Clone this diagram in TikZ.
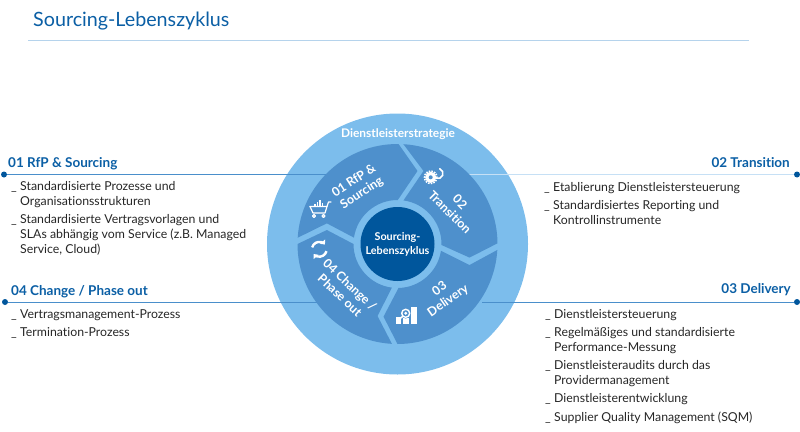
\documentclass[tikz,border=0pt]{standalone}
\usepackage{fontspec}
\setmainfont{Lato}[Ligatures=NoCommon]
\usepackage{xcolor}
\usetikzlibrary{arrows.meta}
\definecolor{ringblue}{HTML}{7CBDEC}
\definecolor{segblue}{HTML}{4E90CC}
\definecolor{darkblue}{HTML}{00569C}
\definecolor{headblue}{HTML}{0B5FA5}
\definecolor{lineblue}{HTML}{4A8FCB}
\definecolor{paleblue}{HTML}{C6E0F5}
\definecolor{rulecol}{HTML}{B5D3EC}
\definecolor{bodytext}{HTML}{262626}
\tikzset{
  heading/.style={inner sep=0pt, text=headblue, font=\fontsize{13.5}{15}\selectfont\bfseries},
  itemtext/.style={anchor=north west, inner sep=0pt, align=left, text=bodytext, font=\fontsize{12.3}{15}\selectfont},
  enddot/.style={circle, fill=darkblue, inner sep=0pt, minimum size=6pt},
  leader/.style={draw=lineblue, line width=0.9pt},
  paleleader/.style={draw=paleblue, line width=1.8pt},
  seg/.style={fill=segblue},
  ringtext/.style={inner sep=0pt, align=center, text=white, font=\fontsize{12.4}{14.5}\selectfont\bfseries},
  icon/.style={draw=white, line width=1.2pt, line cap=round, line join=round}
}
% name, x, baseline, text
\newcommand{\ItemRow}[4]{%
  \node[itemtext] (#1d) at ({#2-9},{#3-10.5}) {\strut\_};
  \node[itemtext] (#1) at ({#2},{#3-10.5}) {\strut #4};
}
% outer from,to; tip angle,radius; inner from,to; notch angle,radius
\newcommand{\RingSeg}[8]{%
  \fill[seg] (#1:100) arc[start angle=#1, end angle=#2, radius=100] -- (#3:#4)
    -- (#5:44) arc[start angle=#5, end angle=#6, radius=44] -- (#7:#8) -- cycle;
}

\begin{document}
\begin{tikzpicture}[x=1pt, y=-1pt]
  \useasboundingbox (0,0) rectangle (800,431);

  % Title
  \node[anchor=base west, inner sep=0pt, text=headblue, font=\fontsize{19.7}{24}\selectfont] (title) at (33,26) {Sourcing-Lebenszyklus};
  \coordinate (ruleL) at (28,40.5);
  \coordinate (ruleR) at (749,40.5);
  \draw[draw=rulecol, line width=0.8pt] (ruleL) -- (ruleR);

  % Outer ring
  \coordinate (ctr) at (397.5,244);
  \fill[ringblue] (ctr) circle[radius=130.5];

  % Leaders
  \node[enddot] (dotA) at (4,174.5) {};
  \node[enddot] (dotB) at (797,174.5) {};
  \node[enddot] (dotC) at (797,302) {};
  \node[enddot] (dotD) at (5,302) {};
  \coordinate (endA) at (328,174.5);
  \coordinate (endB) at (467,174.5);
  \coordinate (endC) at (482,302);
  \coordinate (endD) at (318,302);
  \draw[leader] (dotA) -- (endA);
  \draw[paleleader] (dotB) -- (endB);
  \draw[leader] (dotC) -- (endC);
  \draw[leader] (dotD) -- (endD);

  % Segments
  \begin{scope}[shift={(ctr)}, x=1pt, y=1pt]
    \RingSeg{176.4}{89.4}{74.7}{75.7}{89.6}{171.7}{163.7}{73.6}
    \RingSeg{86.6}{0.4}{-10.7}{73.3}{-1.3}{82.2}{70.4}{77.5}
    \RingSeg{-3.4}{-90}{-100.9}{74}{-88.7}{-8.9}{-16.3}{75}
    \RingSeg{266.8}{180}{168.8}{72}{180}{262.7}{254.5}{74.7}
  \end{scope}
  \fill[darkblue] (ctr) circle[radius=37];

  % Labels in the circle
  \node[ringtext, font=\fontsize{11.9}{14}\selectfont\bfseries] (strategy) at (398,134) {Dienstleisterstrategie};
  \node[ringtext, font=\fontsize{10.8}{14.5}\selectfont\bfseries] (cycle) at (397.5,244.5) {Sourcing-\\Lebenszyklus};
  \node[ringtext, rotate=33] (labA) at (358,187) {01 RfP \&\\Sourcing};
  \node[ringtext, rotate=-45] (labB) at (455,207) {02\\Transition};
  \node[ringtext, rotate=35] (labC) at (444,295) {03\\Delivery};
  \node[ringtext, rotate=-43] (labD) at (345,290) {04 Change /\\Phase out};

  % Cart
  \draw[icon] (310,206.5) -- (327,206.5) -- (328.5,202) -- (331,202);
  \draw[icon] (310,206.5) -- (313,213) -- (325,213) -- (327,206.5);
  \draw[icon] (314,216) circle[radius=1.5] (323.5,216) circle[radius=1.5];
  \foreach \bx/\by in {315/204,317.5/202,320/200,322.5/203}
    \draw[icon, line width=1.4pt, line cap=butt] (\bx,206.5) -- (\bx,\by);

  % Gears
  \draw[icon, line width=1.6pt] (438,173.5) ++(-70:5) arc[start angle=-70, end angle=170, radius=5];
  \fill[white] (430.7,177.3) circle[radius=5.6];
  \draw[draw=white, line width=1.6pt, dash pattern=on 1.5pt off 1.2pt] (430.7,177.3) circle[radius=6.2];
  \fill[segblue] (430.7,177.3) circle[radius=2];

  % Cycle arrows
  \draw[icon, line width=2.4pt, line cap=butt, -{Triangle[length=3.8pt, width=6.4pt]}] (319.3,249.3) ++(-165:7.4) arc[start angle=-165, end angle=-40, radius=7.4];
  \draw[icon, line width=2.4pt, line cap=butt, -{Triangle[length=3.8pt, width=6.4pt]}] (319.3,249.3) ++(15:7.4) arc[start angle=15, end angle=140, radius=7.4];

  % Bars and lens
  \fill[white] (395.7,317.3) rectangle (401,323.7);
  \fill[white] (403.3,318.3) rectangle (409.3,324);
  \fill[white] (411,306.7) rectangle (416.7,324);
  \fill[segblue] (405.7,313.3) circle[radius=5.2];
  \draw[icon, line width=1.4pt] (405.7,313.3) circle[radius=4];
  \fill[white] (405.7,313.3) circle[radius=1.6];
  \draw[icon, line width=1.6pt] (402.8,316.2) -- (398,320.5);

  % 01
  \node[heading, anchor=base west] (headA) at (8,167) {01 RfP \& Sourcing};
  \ItemRow{itemAa}{20}{190}{Standardisierte Prozesse und\\Organisationsstrukturen}
  \ItemRow{itemAb}{20}{223}{Standardisierte Vertragsvorlagen und\\SLAs abhängig vom Service (z.B. Managed\\Service, Cloud)}

  % 02
  \node[heading, anchor=base east] (headB) at (790,167) {02 Transition};
  \ItemRow{itemBa}{553}{191}{Etablierung Dienstleistersteuerung}
  \ItemRow{itemBb}{553}{209}{Standardisiertes Reporting und\\Kontrollinstrumente}

  % 03
  \node[heading, anchor=base east] (headC) at (791,293) {03 Delivery};
  \ItemRow{itemCa}{554}{318}{Dienstleistersteuerung}
  \ItemRow{itemCb}{554}{336}{Regelmäßiges und standardisierte\\Performance-Messung}
  \ItemRow{itemCc}{554}{369}{Dienstleisteraudits durch das\\Providermanagement}
  \ItemRow{itemCd}{554}{402}{Dienstleisterentwicklung}
  \ItemRow{itemCe}{554}{421}{Supplier Quality Management (SQM)}

  % 04
  \node[heading, anchor=base west] (headD) at (11,295) {04 Change / Phase out};
  \ItemRow{itemDa}{20}{318}{Vertragsmanagement-Prozess}
  \ItemRow{itemDb}{20}{336}{Termination-Prozess}
\end{tikzpicture}
\end{document}
